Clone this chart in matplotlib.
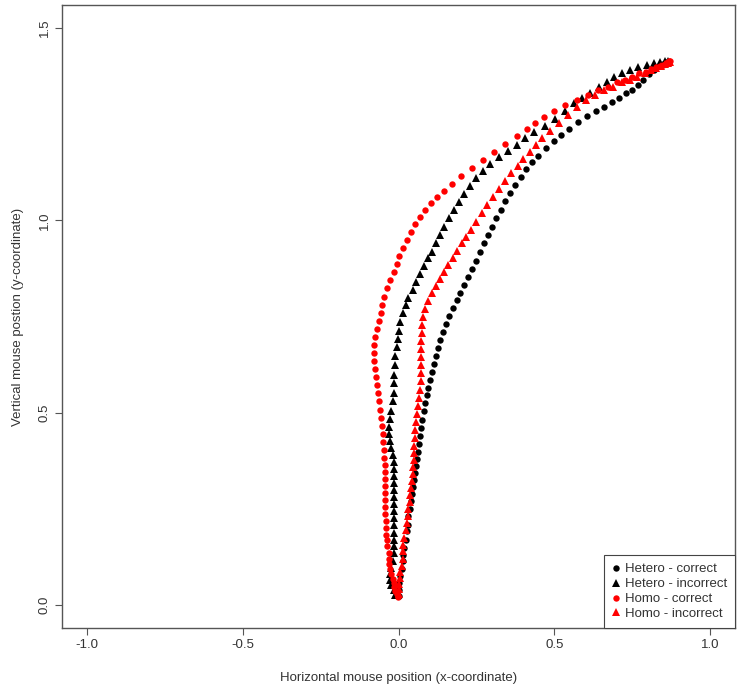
import matplotlib
matplotlib.use("Agg")
import matplotlib.pyplot as plt

plt.rcParams['font.family'] = ['Liberation Sans', 'DejaVu Sans']
plt.rcParams['axes.unicode_minus'] = False

# Hetero - correct (black circles)
het_cor_x = [0.000, 0.000, 0.003, 0.006, 0.010, 0.013, 0.016, 0.019, 0.023, 0.026,
             0.029, 0.032, 0.036, 0.039, 0.042, 0.045, 0.049, 0.052, 0.055, 0.058,
             0.061, 0.065, 0.068, 0.071, 0.074, 0.081, 0.084, 0.091, 0.094, 0.100,
             0.107, 0.113, 0.120, 0.126, 0.133, 0.142, 0.152, 0.162, 0.175, 0.188,
             0.197, 0.210, 0.223, 0.236, 0.249, 0.262, 0.275, 0.288, 0.301, 0.314,
             0.330, 0.343, 0.359, 0.375, 0.392, 0.408, 0.427, 0.447, 0.472, 0.498,
             0.521, 0.547, 0.576, 0.605, 0.634, 0.660, 0.686, 0.709, 0.731, 0.751,
             0.770, 0.786, 0.803, 0.819, 0.835, 0.848, 0.861]
het_cor_y = [0.024, 0.039, 0.058, 0.076, 0.094, 0.113, 0.131, 0.149, 0.170, 0.191,
             0.209, 0.230, 0.249, 0.270, 0.288, 0.306, 0.325, 0.343, 0.361, 0.380,
             0.398, 0.419, 0.440, 0.461, 0.482, 0.503, 0.524, 0.545, 0.563, 0.584,
             0.605, 0.626, 0.647, 0.668, 0.688, 0.709, 0.730, 0.751, 0.772, 0.793,
             0.812, 0.832, 0.853, 0.874, 0.895, 0.919, 0.940, 0.963, 0.984, 1.005,
             1.026, 1.050, 1.071, 1.092, 1.113, 1.134, 1.152, 1.168, 1.188, 1.207,
             1.223, 1.238, 1.257, 1.272, 1.285, 1.296, 1.309, 1.319, 1.330, 1.340,
             1.353, 1.366, 1.380, 1.390, 1.401, 1.406, 1.411]

# Hetero - incorrect (black triangles)
het_inc_x = [-0.010, -0.016, -0.023, -0.026, -0.026, -0.023, -0.019, -0.016, -0.016, -0.013,
             -0.013, -0.013, -0.013, -0.016, -0.016, -0.016, -0.016, -0.016, -0.016, -0.016,
             -0.016, -0.019, -0.023, -0.026, -0.029, -0.029, -0.026, -0.023, -0.019, -0.016,
             -0.016, -0.013, -0.010, -0.010, -0.006, -0.003, 0.000, 0.006, 0.013, 0.023,
             0.032, 0.045, 0.055, 0.068, 0.081, 0.094, 0.107, 0.120, 0.133, 0.146,
             0.162, 0.178, 0.194, 0.210, 0.230, 0.249, 0.272, 0.294, 0.324, 0.353,
             0.379, 0.405, 0.434, 0.469, 0.502, 0.534, 0.563, 0.589, 0.615, 0.644,
             0.670, 0.693, 0.718, 0.744, 0.770, 0.796, 0.819, 0.838, 0.854, 0.864]
het_inc_y = [0.026, 0.039, 0.052, 0.065, 0.081, 0.097, 0.115, 0.134, 0.152, 0.170,
             0.188, 0.207, 0.225, 0.243, 0.262, 0.280, 0.298, 0.317, 0.335, 0.353,
             0.372, 0.390, 0.408, 0.427, 0.445, 0.463, 0.484, 0.505, 0.529, 0.552,
             0.576, 0.599, 0.623, 0.647, 0.670, 0.691, 0.712, 0.736, 0.759, 0.780,
             0.798, 0.819, 0.840, 0.861, 0.882, 0.901, 0.919, 0.940, 0.961, 0.982,
             1.005, 1.026, 1.047, 1.068, 1.089, 1.110, 1.128, 1.147, 1.165, 1.181,
             1.196, 1.215, 1.230, 1.246, 1.264, 1.285, 1.304, 1.319, 1.332, 1.346,
             1.361, 1.372, 1.382, 1.390, 1.398, 1.403, 1.408, 1.411, 1.414, 1.414]

# Homo - correct (red circles)
hom_cor_x = [-0.003, -0.006, -0.010, -0.013, -0.016, -0.019, -0.023, -0.026, -0.029, -0.029,
             -0.032, -0.036, -0.036, -0.039, -0.039, -0.039, -0.042, -0.042, -0.042, -0.042,
             -0.042, -0.042, -0.042, -0.042, -0.045, -0.045, -0.049, -0.049, -0.052, -0.055,
             -0.058, -0.061, -0.065, -0.068, -0.071, -0.074, -0.078, -0.078, -0.078, -0.074,
             -0.068, -0.061, -0.055, -0.052, -0.045, -0.036, -0.026, -0.016, -0.006, 0.003,
             0.013, 0.026, 0.039, 0.052, 0.068, 0.084, 0.104, 0.123, 0.146, 0.172,
             0.201, 0.236, 0.272, 0.307, 0.343, 0.379, 0.411, 0.437, 0.466, 0.498,
             0.534, 0.573, 0.608, 0.641, 0.673, 0.702, 0.728, 0.751, 0.773, 0.793,
             0.809, 0.825, 0.838, 0.848, 0.858, 0.864, 0.867, 0.871]
hom_cor_y = [0.021, 0.029, 0.037, 0.047, 0.058, 0.068, 0.081, 0.094, 0.107, 0.120,
             0.136, 0.152, 0.168, 0.183, 0.199, 0.217, 0.236, 0.254, 0.272, 0.291,
             0.309, 0.327, 0.346, 0.364, 0.382, 0.403, 0.424, 0.445, 0.466, 0.487,
             0.508, 0.529, 0.550, 0.571, 0.592, 0.613, 0.634, 0.654, 0.675, 0.696,
             0.717, 0.738, 0.759, 0.780, 0.801, 0.825, 0.846, 0.866, 0.887, 0.908,
             0.929, 0.950, 0.971, 0.990, 1.008, 1.026, 1.045, 1.060, 1.076, 1.094,
             1.115, 1.136, 1.157, 1.178, 1.199, 1.220, 1.238, 1.254, 1.270, 1.285,
             1.301, 1.314, 1.327, 1.338, 1.348, 1.359, 1.366, 1.374, 1.382, 1.387,
             1.393, 1.398, 1.401, 1.403, 1.408, 1.411, 1.414, 1.414]

# Homo - incorrect (red triangles)
hom_inc_x = [0.000, 0.003, 0.003, 0.006, 0.006, 0.010, 0.013, 0.013, 0.016, 0.019,
             0.023, 0.026, 0.029, 0.032, 0.036, 0.036, 0.039, 0.042, 0.045, 0.045,
             0.049, 0.049, 0.049, 0.052, 0.052, 0.055, 0.058, 0.061, 0.065, 0.068,
             0.071, 0.071, 0.071, 0.071, 0.071, 0.071, 0.074, 0.074, 0.078, 0.084,
             0.094, 0.107, 0.120, 0.133, 0.146, 0.159, 0.175, 0.188, 0.204, 0.217,
             0.233, 0.249, 0.269, 0.285, 0.304, 0.324, 0.343, 0.362, 0.382, 0.401,
             0.421, 0.440, 0.460, 0.485, 0.515, 0.544, 0.573, 0.602, 0.631, 0.660,
             0.689, 0.718, 0.744, 0.767, 0.790, 0.809, 0.825, 0.841, 0.854, 0.864,
             0.871]
hom_inc_y = [0.029, 0.042, 0.055, 0.071, 0.086, 0.102, 0.120, 0.139, 0.157, 0.175,
             0.194, 0.212, 0.230, 0.249, 0.267, 0.285, 0.304, 0.322, 0.340, 0.359,
             0.377, 0.395, 0.414, 0.435, 0.455, 0.476, 0.497, 0.518, 0.539, 0.560,
             0.581, 0.602, 0.623, 0.644, 0.665, 0.686, 0.707, 0.728, 0.749, 0.770,
             0.791, 0.812, 0.830, 0.848, 0.866, 0.885, 0.903, 0.921, 0.940, 0.958,
             0.976, 0.997, 1.018, 1.039, 1.060, 1.081, 1.102, 1.123, 1.141, 1.160,
             1.178, 1.196, 1.215, 1.233, 1.254, 1.275, 1.296, 1.312, 1.325, 1.338,
             1.348, 1.359, 1.366, 1.374, 1.382, 1.390, 1.395, 1.401, 1.406, 1.408,
             1.411]

series_labels = ['Hetero - correct', 'Hetero - incorrect', 'Homo - correct', 'Homo - incorrect']
x_ticks = [-1.0, -0.5, 0.0, 0.5, 1.0]
x_tick_labels = ['-1.0', '-0.5', '0.0', '0.5', '1.0']
y_ticks = [0.0, 0.5, 1.0, 1.5]
y_tick_labels = ['0.0', '0.5', '1.0', '1.5']

fig = plt.figure(figsize=(7.41, 6.91), dpi=100)
ax = fig.add_axes([62 / 741, 63 / 691, 673 / 741, 623 / 691])

series = [
    (het_cor_x, het_cor_y, 'o', 'black', 4.6),
    (het_inc_x, het_inc_y, '^', 'black', 5.6),
    (hom_cor_x, hom_cor_y, 'o', 'red', 4.6),
    (hom_inc_x, hom_inc_y, '^', 'red', 5.6),
]
for (xs, ys, mk, col, ms), lab in zip(series, series_labels):
    ax.plot(xs, ys, linestyle='none', marker=mk, color=col, markersize=ms,
            markeredgewidth=0, label=lab)

ax.set_xlim(-1.08, 1.08)
ax.set_ylim(-0.06, 1.56)
ax.set_xticks(x_ticks)
ax.set_xticklabels(x_tick_labels)
ax.set_yticks(y_ticks)
ax.set_yticklabels(y_tick_labels, rotation=90, va='center')

text_col = '#333333'
fs = 9.5
for sp in ax.spines.values():
    sp.set_color('#555555')
    sp.set_linewidth(1.0)
ax.tick_params(direction='out', length=5, width=0.8, color='#555555',
               labelsize=fs, labelcolor=text_col, pad=3)

ax.set_xlabel('Horizontal mouse position (x-coordinate)', fontsize=fs,
              color=text_col, labelpad=15)
ax.set_ylabel('Vertical mouse postion (y-coordinate)', fontsize=fs,
              color=text_col, labelpad=11)

leg = ax.legend(loc='lower right', borderaxespad=0, fancybox=False,
                edgecolor='#444444', framealpha=1, fontsize=fs,
                handlelength=0.6, handletextpad=0.4, labelspacing=0.2,
                borderpad=0.6)
leg.get_frame().set_linewidth(0.8)
for t in leg.get_texts():
    t.set_color(text_col)

fig.savefig('out.png', dpi=100)
